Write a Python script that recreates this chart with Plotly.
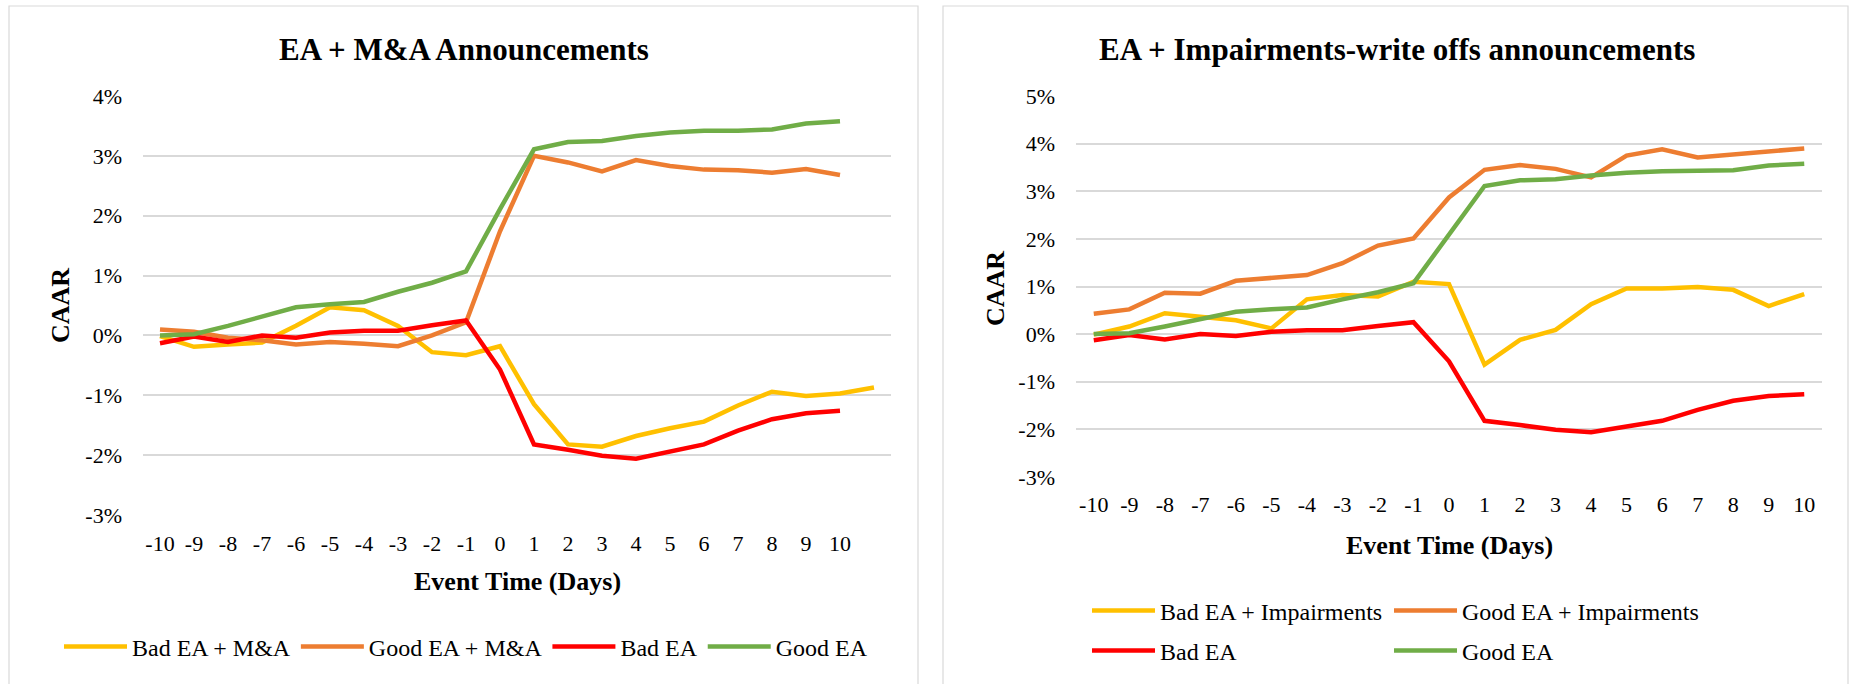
import plotly.graph_objects as go

# ---------------- data ----------------
days = list(range(-10, 11))
days_ext = list(range(-10, 12))  # Bad EA + M&A series runs one step beyond day 10

bad_ma = [-0.01, -0.19, -0.15, -0.12, 0.16, 0.47, 0.42, 0.16, -0.28, -0.33, -0.18,
          -1.15, -1.82, -1.86, -1.68, -1.55, -1.44, -1.17, -0.94, -1.01, -0.97, -0.87]
good_ma = [0.10, 0.06, -0.04, -0.08, -0.15, -0.11, -0.14, -0.18, 0.00, 0.22, 1.74,
           3.00, 2.89, 2.74, 2.93, 2.83, 2.77, 2.76, 2.72, 2.78, 2.68]
bad_ea = [-0.13, -0.02, -0.11, 0.00, -0.04, 0.05, 0.08, 0.08, 0.17, 0.25, -0.57,
          -1.82, -1.91, -2.01, -2.06, -1.94, -1.82, -1.59, -1.40, -1.30, -1.26]
good_ea = [0.00, 0.02, 0.16, 0.31, 0.47, 0.52, 0.56, 0.73, 0.88, 1.07, 2.11,
           3.11, 3.23, 3.25, 3.33, 3.39, 3.42, 3.42, 3.44, 3.54, 3.58]
bad_imp = [-0.01, 0.16, 0.44, 0.37, 0.29, 0.12, 0.73, 0.82, 0.79, 1.10, 1.05,
           -0.64, -0.12, 0.09, 0.63, 0.96, 0.96, 0.99, 0.93, 0.59, 0.84]
good_imp = [0.43, 0.52, 0.87, 0.85, 1.12, 1.17, 1.24, 1.49, 1.86, 2.01, 2.87,
            3.45, 3.55, 3.47, 3.29, 3.75, 3.88, 3.71, 3.78, 3.85, 3.90]

x_ticks = days
x_ticktext = [str(d) for d in days]
y_ticks_left = list(range(-3, 5))
y_ticks_right = list(range(-3, 6))

names_left = ["Bad EA + M&A", "Good EA + M&A", "Bad EA", "Good EA"]
names_right = ["Bad EA + Impairments", "Good EA + Impairments", "Bad EA", "Good EA"]
colors = ["#FFC000", "#ED7D31", "#FF0000", "#70AD47"]

title_left = "EA + M&A Announcements"
title_right = "EA + Impairments-write offs announcements"
x_title = "Event Time (Days)"
y_title = "CAAR"

# ---------------- figure ----------------
W, H = 1850, 684
FONT = "Liberation Serif"


def px(x):
    return x / W


def py(y):
    return 1 - y / H


fig = go.Figure()

left_series = [(days_ext, bad_ma), (days, good_ma), (days, bad_ea), (days, good_ea)]
for (xs, ys), name, c in zip(left_series, names_left, colors):
    fig.add_trace(go.Scatter(x=xs, y=ys, name=name, mode="lines",
                             line=dict(color=c, width=4.5),
                             xaxis="x", yaxis="y", legend="legend"))

right_series = [bad_imp, good_imp, bad_ea, good_ea]
right_legends = ["legend2", "legend3", "legend4", "legend5"]
for ys, name, c, lg in zip(right_series, names_right, colors, right_legends):
    fig.add_trace(go.Scatter(x=days, y=ys, name=name, mode="lines",
                             line=dict(color=c, width=4.5),
                             xaxis="x2", yaxis="y2", legend=lg))

axis_common = dict(showline=False, zeroline=False, ticks="", automargin=False,
                   tickfont=dict(family=FONT, size=22, color="#000000"))

legend_font = dict(family=FONT, size=24, color="#000000")


def legend_at(x, y):
    return dict(orientation="h", x=px(x), y=py(y), xanchor="left", yanchor="middle",
                itemwidth=63, font=legend_font, bgcolor="rgba(0,0,0,0)")


fig.update_layout(
    width=W, height=H,
    margin=dict(l=0, r=0, t=0, b=0, pad=0, autoexpand=False),
    paper_bgcolor="white", plot_bgcolor="white",
    font=dict(family=FONT, color="#000000"),
    xaxis=dict(domain=[px(143), px(891)], range=[-10.5, 11.5],
               tickvals=x_ticks, ticktext=x_ticktext, showgrid=False,
               ticklabelstandoff=13, anchor="y", **axis_common),
    yaxis=dict(domain=[py(515), py(96)], range=[-3, 4],
               tickvals=y_ticks_left, ticktext=[f"{v}%" for v in y_ticks_left],
               showgrid=True, gridcolor="#D9D9D9", gridwidth=1.5,
               ticklabelstandoff=20, anchor="x", **axis_common),
    xaxis2=dict(domain=[px(1076), px(1822)], range=[-10.5, 10.5],
                tickvals=x_ticks, ticktext=x_ticktext, showgrid=False,
                ticklabelstandoff=12, anchor="y2", **axis_common),
    yaxis2=dict(domain=[py(477), py(96)], range=[-3, 5],
                tickvals=y_ticks_right, ticktext=[f"{v}%" for v in y_ticks_right],
                showgrid=True, gridcolor="#D9D9D9", gridwidth=1.5,
                ticklabelstandoff=20, anchor="x2", **axis_common),
    legend=legend_at(59, 647),
    legend2=legend_at(1087, 611),
    legend3=legend_at(1389, 611),
    legend4=legend_at(1087, 651),
    legend5=legend_at(1389, 651),
    showlegend=True,
)

# panel borders
for x0, x1 in [(9, 918), (943, 1848)]:
    fig.add_shape(type="rect", xref="paper", yref="paper",
                  x0=px(x0), x1=px(x1), y0=py(720), y1=py(6),
                  line=dict(color="#D9D9D9", width=1.2), fillcolor="rgba(0,0,0,0)",
                  layer="below")

title_font = dict(family=FONT, size=31, color="#000000", weight="bold")
axis_title_font = dict(family=FONT, size=26, color="#000000", weight="bold")

annots = [
    dict(text=title_left, x=px(464), y=py(49), font=title_font),
    dict(text=title_right, x=px(1397), y=py(49), font=title_font),
    dict(text=x_title, x=px(517), y=py(581), font=axis_title_font),
    dict(text=x_title, x=px(1449), y=py(545), font=axis_title_font),
    dict(text=y_title, x=px(60), y=py(306), font=axis_title_font, textangle=-90),
    dict(text=y_title, x=px(995), y=py(288), font=axis_title_font, textangle=-90),
]
for a in annots:
    fig.add_annotation(xref="paper", yref="paper", showarrow=False,
                       xanchor="center", yanchor="middle", **a)

fig.write_html("out.html",
               config={"displayModeBar": False},
               post_script="document.body.style.margin='0';document.body.style.overflow='hidden';")
